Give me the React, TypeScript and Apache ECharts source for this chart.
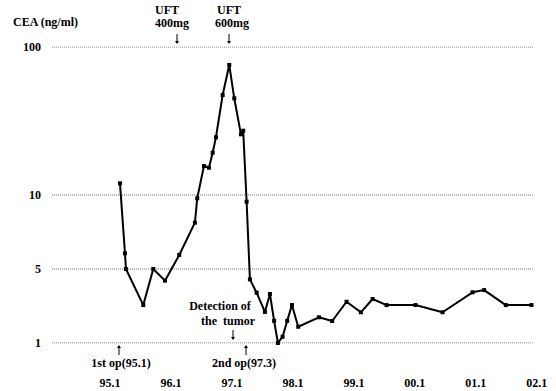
import React, { useEffect, useRef } from "react";
import * as echarts from "echarts";

// Measurement times (decimal years) and CEA values (ng/ml)
const measureTimes = [
  1995.164, 1995.246, 1995.262, 1995.546, 1995.71, 1995.902, 1996.136, 1996.393, 1996.431,
  1996.541, 1996.623, 1996.684, 1996.738, 1996.848, 1996.956, 1997.038, 1997.148, 1997.185,
  1997.241, 1997.295, 1997.405, 1997.541, 1997.623, 1997.692, 1997.754, 1997.831, 1997.907,
  1997.984, 1998.087, 1998.426, 1998.644, 1998.88, 1999.115, 1999.307, 1999.536, 2000.011,
  2000.454, 2000.946, 2001.136, 2001.492, 2001.913,
];
const ceaValues = [
  17.1, 6.06, 5.0, 3.05, 5.0, 4.37, 5.95, 8.13, 9.78,
  27.6, 26.6, 35.7, 45.1, 70.8, 89.1, 68.8, 46.9, 49.1,
  9.55, 4.44, 3.72, 2.68, 3.65, 2.2, 1.0, 1.34, 2.2,
  3.05, 1.88, 2.39, 2.19, 3.23, 2.66, 3.38, 3.05, 3.05,
  2.66, 3.74, 3.86, 3.05, 3.05,
];
const yTickValues = [1, 5, 10, 100];
const xTickYears = [1995, 1996, 1997, 1998, 1999, 2000, 2001, 2002];
const xTickLabels = ["95.1", "96.1", "97.1", "98.1", "99.1", "00.1", "01.1", "02.1"];

// piecewise scale used by the original figure: 1→0, 5→1, 10→2, 100→4
function toU(v: number): number {
  if (v <= 5) return (v - 1) / 4;
  if (v <= 10) return 1 + (v - 5) / 5;
  return 2 + (v - 10) / 45;
}

const FONT = "'Liberation Serif', 'DejaVu Serif', serif";

export default function App() {
  const ref = useRef<HTMLDivElement>(null);
  useEffect(() => {
    if (!ref.current) return;
    const chart = echarts.init(ref.current, undefined, { renderer: "svg" });
    const uTicks = yTickValues.map(toU);
    const txt = (text: string, x: number, y: number, align: string = "center") => ({
      type: "text",
      x,
      y,
      style: {
        text,
        fill: "#000",
        font: `bold 12px ${FONT}`,
        textAlign: align,
        textVerticalAlign: "middle",
      },
    });
    // small arrow: dir 1 = pointing down, -1 = pointing up; (x, y) = centre
    const arrow = (x: number, y: number, dir: number) => ({
      type: "group",
      children: [
        {
          type: "line",
          shape: { x1: x, y1: y - 5 * dir, x2: x, y2: y + 3 * dir },
          style: { stroke: "#000", lineWidth: 1 },
        },
        {
          type: "polygon",
          shape: {
            points: [
              [x - 2, y + 2 * dir],
              [x + 2, y + 2 * dir],
              [x, y + 5 * dir],
            ],
          },
          style: { fill: "#000" },
        },
      ],
    });
    const gridSeries = uTicks.map((u) => ({
      type: "line",
      data: [
        [1994.05, u],
        [2001.95, u],
      ],
      symbol: "none",
      silent: true,
      lineStyle: { color: "#666", type: "dotted", width: 1 },
      z: 1,
    }));
    chart.setOption({
      animation: false,
      backgroundColor: "#fff",
      grid: { left: 49, right: 7, top: 47, bottom: 48 },
      xAxis: {
        type: "value",
        min: 1994,
        max: 2002.2,
        interval: 1,
        axisLine: { show: false },
        axisTick: { show: false },
        splitLine: { show: false },
        axisLabel: {
          margin: 34,
          color: "#000",
          fontFamily: FONT,
          fontWeight: "bold",
          fontSize: 12,
          showMaxLabel: false,
          formatter: (v: number) => {
            const i = xTickYears.indexOf(Math.round(v));
            return i >= 0 ? xTickLabels[i] : "";
          },
        },
      },
      yAxis: {
        type: "value",
        min: 0,
        max: 4,
        interval: 1,
        axisLine: { show: false },
        axisTick: { show: false },
        splitLine: { show: false },
        axisLabel: {
          margin: 8,
          color: "#000",
          fontFamily: FONT,
          fontWeight: "bold",
          fontSize: 12,
          formatter: (v: number) => {
            const i = uTicks.findIndex((u) => Math.abs(u - v) < 1e-6);
            return i >= 0 ? String(yTickValues[i]) : "";
          },
        },
      },
      series: [
        ...gridSeries,
        {
          type: "line",
          data: measureTimes.map((t, i) => [t, toU(ceaValues[i])]),
          symbol: "rect",
          symbolSize: 4,
          lineStyle: { color: "#000", width: 2 },
          itemStyle: { color: "#000" },
          z: 5,
        },
      ],
      graphic: [
        txt("CEA (ng/ml)", 13, 22, "left"),
        txt("UFT", 155, 10, "left"),
        txt("400mg", 155, 23, "left"),
        arrow(177, 39, 1),
        txt("UFT", 229, 10),
        txt("600mg", 232, 23),
        arrow(229, 39, 1),
        txt("Detection of", 220, 306),
        txt("the  tumor", 228, 321),
        arrow(233, 335, 1),
        arrow(119, 350, -1),
        txt("1st op(95.1)", 121, 363),
        arrow(246, 350, -1),
        txt("2nd op(97.3)", 244, 363),
      ],
    });
    return () => chart.dispose();
  }, []);
  return <div ref={ref} style={{ width: 556, height: 391, position: "absolute", left: 0, top: 0 }} />;
}
